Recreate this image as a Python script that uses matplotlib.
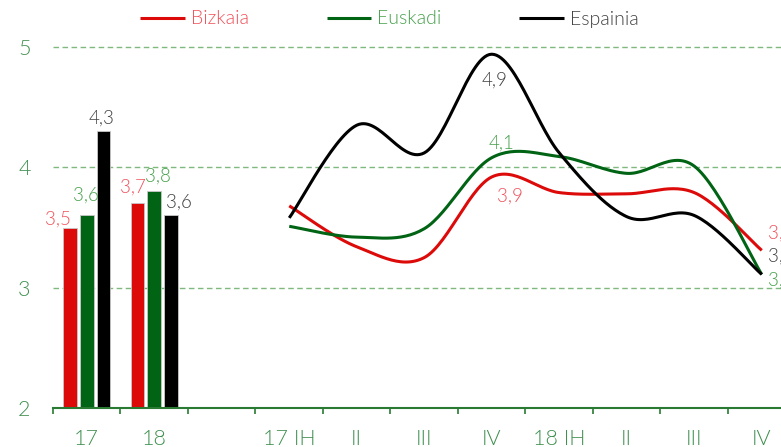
import numpy as np
import matplotlib
matplotlib.use("Agg")
import matplotlib.pyplot as plt
from matplotlib.ticker import FixedLocator

plt.rcParams['font.family'] = ['Lato', 'DejaVu Sans']

# ---------------- data ----------------
categories = ["17", "18", "", "17 IH", "II", "III", "IV", "18 IH", "II", "III", "IV"]
series = ["Bizkaia", "Euskadi", "Espainia"]

# annual bars (categories "17", "18")
bar_bizkaia = [3.5, 3.7]
bar_euskadi = [3.6, 3.8]
bar_espainia = [4.3, 3.6]
bar_labels_bizkaia = ["3,5", "3,7"]
bar_labels_euskadi = ["3,6", "3,8"]
bar_labels_espainia = ["4,3", "3,6"]

# quarterly lines (categories "17 IH" ... "IV")
line_bizkaia = [3.68, 3.34, 3.25, 3.92, 3.79, 3.78, 3.79, 3.31]
line_euskadi = [3.51, 3.42, 3.49, 4.08, 4.09, 3.95, 4.01, 3.11]
line_espainia = [3.58, 4.35, 4.12, 4.94, 4.12, 3.59, 3.60, 3.11]

# ---------------- style ----------------
c_red = "#dd0a0a"
c_green = "#006414"
c_black = "#000000"
t_red = "#f0505a"
t_green = "#45a04a"
t_black = "#404040"
axis_green = "#2a7a34"
tick_green = "#3f8f4f"
grid_green = "#7fb97f"
FW = 300  # Lato Light
LFS = 13.5

W, H = 781, 447
fig = plt.figure(figsize=(W / 100, H / 100), dpi=100)
left_px, right_px, bottom_px, top_px = 53, 795.5, 408, 47
ax = fig.add_axes([left_px / W, 1 - bottom_px / H, (right_px - left_px) / W, (bottom_px - top_px) / H])

n = len(categories)
ax.set_xlim(0, n)
ax.set_ylim(2, 5)
centers = np.arange(n) + 0.5

# grid
for yv in [3, 4, 5]:
    ax.axhline(yv, color=grid_green, lw=1.0, ls=(0, (4, 2.5)), zorder=1, clip_on=False)

# bars
bw = 0.2
offs = [-0.25, 0.0, 0.25]
bar_sets = [(bar_bizkaia, c_red), (bar_euskadi, c_green), (bar_espainia, c_black)]
for (vals, col), o in zip(bar_sets, offs):
    ax.bar(centers[:2] + o, np.array(vals) - 2, bottom=2, width=bw, color=col,
           edgecolor="#c8c8c8", linewidth=0.6, zorder=3)

PX = 0.72  # points per pixel


def lab(x, y, s, color, dx, dy, ha="center"):
    # dx, dy in pixels; dy positive = downwards
    ax.annotate(s, (x, y), xytext=(dx * PX, -dy * PX), textcoords="offset points",
                ha=ha, va="center", color=color, fontsize=LFS, fontweight=FW,
                zorder=6, annotation_clip=False)


bar_lab_offsets = {
    ("r", 0): (-12, -8), ("g", 0): (-1, -20), ("k", 0): (-2, -13),
    ("r", 1): (-4, -16), ("g", 1): (4, -15), ("k", 1): (8, -13),
}
for key, vals, labs, col, o in [("r", bar_bizkaia, bar_labels_bizkaia, t_red, offs[0]),
                                ("g", bar_euskadi, bar_labels_euskadi, t_green, offs[1]),
                                ("k", bar_espainia, bar_labels_espainia, t_black, offs[2])]:
    for i, (v, s) in enumerate(zip(vals, labs)):
        dx, dy = bar_lab_offsets[(key, i)]
        lab(centers[i] + o, v, s, col, dx, dy)


# smooth lines (Excel-like Bezier smoothing through points)
def smooth(xs, ys, steps=30):
    P = np.column_stack([xs, ys]).astype(float)
    npts = len(P)
    out = []
    for i in range(npts - 1):
        p0 = P[i - 1] if i > 0 else P[i]
        p1 = P[i]
        p2 = P[i + 1]
        p3 = P[i + 2] if i + 2 < npts else P[i + 1]
        c1 = p1 + (p2 - p0) / 6.0
        c2 = p2 - (p3 - p1) / 6.0
        t = np.linspace(0, 1, steps)[:, None]
        seg = ((1 - t) ** 3) * p1 + 3 * ((1 - t) ** 2) * t * c1 + 3 * (1 - t) * t ** 2 * c2 + t ** 3 * p2
        out.append(seg if i == 0 else seg[1:])
    out = np.vstack(out)
    return out[:, 0], out[:, 1]


xq = centers[3:]
for vals, col, name in [(line_bizkaia, c_red, "Bizkaia"),
                        (line_euskadi, c_green, "Euskadi"),
                        (line_espainia, c_black, "Espainia")]:
    sx, sy = smooth(xq, vals)
    ax.plot(sx, sy, color=col, lw=2.2, solid_capstyle="butt", zorder=4, label=name,
            clip_on=False)


def fmt(v):
    return f"{v:.1f}".replace(".", ",")


# line labels
lab(xq[3], line_espainia[3], fmt(line_espainia[3]), t_black, 3, 26)
lab(xq[3], line_euskadi[3], fmt(line_euskadi[3]), t_green, 10, -15)
lab(xq[3], line_bizkaia[3], fmt(line_bizkaia[3]), t_red, 18, 19)
lab(xq[-1], line_bizkaia[-1], fmt(line_bizkaia[-1]), t_red, 6, -17, ha="left")
lab(xq[-1], line_espainia[-1], fmt(line_espainia[-1]), t_black, 6, -18, ha="left")
lab(xq[-1], line_euskadi[-1], fmt(line_euskadi[-1]), t_green, 6, 6, ha="left")

# axes styling
for s in ["top", "right", "left"]:
    ax.spines[s].set_visible(False)
ax.spines["bottom"].set_color(axis_green)
ax.spines["bottom"].set_linewidth(1.5)
ax.spines["bottom"].set_zorder(5)

ax.set_xticks(centers)
ax.set_xticklabels(categories)
ax.xaxis.set_minor_locator(FixedLocator(np.arange(0, n + 1)))
ax.tick_params(axis="x", which="major", length=0, pad=15, labelsize=15.5, labelcolor=tick_green)
ax.tick_params(axis="x", which="minor", length=4, width=1.2, color=axis_green, direction="out")
ax.set_yticks([2, 3, 4, 5])
ax.set_yticklabels(["2", "3", "4", "5"])
ax.tick_params(axis="y", length=0, pad=16, labelsize=15.5, labelcolor=tick_green)
for t in ax.get_xticklabels() + ax.get_yticklabels():
    t.set_fontweight(FW)

leg = ax.legend(loc="center", bbox_to_anchor=(0.5, 0), ncol=3, frameon=False,
                prop={"size": 14, "weight": FW}, handlelength=2.3, handletextpad=0.3,
                columnspacing=4.0, labelcolor=[t_red, t_green, t_black])
leg.set_bbox_to_anchor((389.5 / W, 1 - 19 / H), transform=fig.transFigure)

fig.savefig("out.png", dpi=100)
